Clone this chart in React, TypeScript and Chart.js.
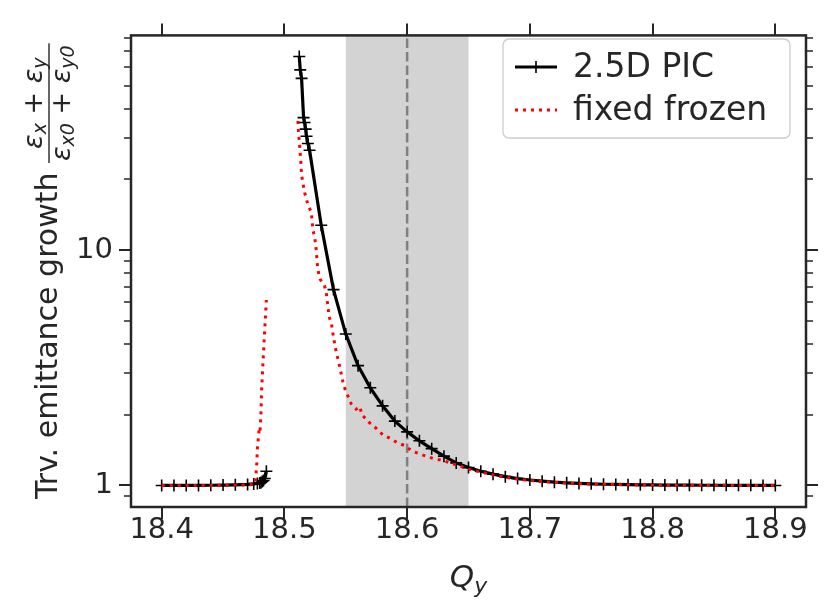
import React, { useEffect, useRef } from 'react';
import { Chart, registerables } from 'chart.js';

Chart.register(...registerables);

// ---------- data ----------
const xTicks = [18.4, 18.5, 18.6, 18.7, 18.8, 18.9];
const yMajorTicks = [1, 10];
const yMinorTicks = [0.9, 2, 3, 4, 5, 6, 7, 8, 9, 20, 30, 40, 50, 60, 70, 80];

const bandRange = [18.55, 18.65];
const markerQ = 18.6;

const seriesNames = ['2.5D PIC', 'fixed frozen'];

// 2.5D PIC (black, '+' markers); null = gap
const picQ = [
  18.40, 18.41, 18.42, 18.43, 18.44, 18.45, 18.46, 18.47, 18.475, 18.478, 18.480, 18.481,
  18.482, 18.483, 18.484, 18.4853, 18.495,
  18.5121, 18.5129, 18.514, 18.5156, 18.5164, 18.5173, 18.518, 18.5191, 18.5205,
  18.53, 18.54, 18.55, 18.56, 18.57, 18.58, 18.59, 18.60, 18.61, 18.62, 18.63, 18.64,
  18.65, 18.66, 18.67, 18.68, 18.69, 18.70, 18.71, 18.72, 18.73, 18.74, 18.75, 18.76,
  18.77, 18.78, 18.79, 18.80, 18.81, 18.82, 18.83, 18.84, 18.85, 18.86, 18.87, 18.88,
  18.89, 18.90,
];
const picV = [
  1.0, 1.0, 1.0, 1.0, 1.002, 1.004, 1.006, 1.01, 1.015, 1.02, 1.025, 1.03,
  1.04, 1.05, 1.07, 1.15, null,
  66.5, 58.4, 53.7, 36.6, 34.9, 32.7, 30.5, 28.4, 26.6,
  12.76, 6.80, 4.40, 3.23, 2.60, 2.18, 1.877, 1.690, 1.548, 1.434, 1.332, 1.247,
  1.191, 1.15, 1.117, 1.09, 1.07, 1.055, 1.043, 1.033, 1.026, 1.02, 1.016, 1.012,
  1.01, 1.008, 1.006, 1.005, 1.004, 1.003, 1.003, 1.002, 1.002, 1.001, 1.001, 1.001,
  1.0, 1.0,
];

// fixed frozen (red dotted); null = gap
const frozenQ = [
  18.40, 18.41, 18.42, 18.43, 18.44, 18.45, 18.46, 18.47, 18.4755, 18.4765, 18.4775,
  18.478, 18.4795, 18.4802, 18.481, 18.4814, 18.483, 18.4847, 18.4853, 18.495,
  18.511, 18.5113, 18.5118, 18.5124, 18.5129, 18.5134, 18.5137, 18.5142, 18.5146,
  18.5165, 18.5191, 18.5219, 18.5232, 18.5254, 18.5265, 18.527, 18.5281, 18.5292,
  18.5314, 18.5326, 18.534, 18.5348, 18.5357, 18.5362, 18.5382, 18.5395, 18.5415,
  18.545, 18.5476, 18.5498, 18.5517, 18.5545, 18.5585, 18.5618, 18.5626, 18.5688,
  18.5748, 18.5802, 18.587, 18.5924, 18.5979, 18.5998, 18.6047, 18.6101, 18.6156,
  18.621, 18.629, 18.6372, 18.6453, 18.65, 18.66, 18.67, 18.68, 18.69, 18.70, 18.71,
  18.72, 18.73, 18.74, 18.75, 18.76, 18.77, 18.78, 18.79, 18.80, 18.81, 18.82, 18.83,
  18.84, 18.85, 18.86, 18.87, 18.88, 18.89, 18.90,
];
const frozenV = [
  1.0, 1.0, 1.0, 1.0, 1.0, 1.002, 1.004, 1.006, 1.01, 1.05, 1.247,
  1.445, 1.75, 1.71, 2.084, 2.535, 3.70, 5.40, 6.14, null,
  35.4, 32.7, 30.2, 27.9, 25.7, 23.7, 22.1, 20.5, 19.96,
  17.56, 15.64, 14.49, 12.27, 10.73, 9.20, 8.52, 7.85, 7.51,
  7.21, 7.09, 6.65, 6.14, 5.68, 5.24, 4.92, 4.43, 3.85,
  3.21, 2.77, 2.525, 2.40, 2.22, 2.11, 2.16, 2.015, 1.858,
  1.75, 1.641, 1.578, 1.514, 1.480, 1.451, 1.395, 1.362, 1.332,
  1.303, 1.277, 1.237, 1.198, 1.173, 1.14, 1.11, 1.085, 1.065, 1.05, 1.04,
  1.03, 1.024, 1.018, 1.014, 1.011, 1.009, 1.007, 1.005, 1.004, 1.003, 1.002, 1.002,
  1.001, 1.001, 1.001, 1.0, 1.0, 1.0, 1.0,
];

// ---------- style ----------
const FONT = '"DejaVu Sans", "Liberation Sans", sans-serif';
const INK = '#262626';
const TICK_FONT = 29;
const LEGEND_FONT = 33;
const LABEL_FONT = 30;

type Run = { t: string; size: number; italic?: boolean; dy?: number };

function runsWidth(ctx: CanvasRenderingContext2D, runs: Run[]) {
  let w = 0;
  for (const r of runs) {
    ctx.font = `${r.italic ? 'italic ' : ''}${r.size}px ${FONT}`;
    w += ctx.measureText(r.t).width;
  }
  return w;
}
function drawRuns(ctx: CanvasRenderingContext2D, runs: Run[], x: number, y: number) {
  let cx = x;
  for (const r of runs) {
    ctx.font = `${r.italic ? 'italic ' : ''}${r.size}px ${FONT}`;
    ctx.fillText(r.t, cx, y + (r.dy || 0));
    cx += ctx.measureText(r.t).width;
  }
}

const decorPlugin = {
  id: 'decor',
  beforeDatasetsDraw(chart: any) {
    const { ctx, chartArea: a, scales } = chart;
    const x = scales.x;
    const x0 = x.getPixelForValue(bandRange[0]);
    const x1 = x.getPixelForValue(bandRange[1]);
    ctx.save();
    ctx.fillStyle = '#d3d3d3';
    ctx.fillRect(x0, a.top, x1 - x0, a.bottom - a.top);
    const xm = x.getPixelForValue(markerQ);
    ctx.strokeStyle = '#808080';
    ctx.lineWidth = 2.5;
    ctx.setLineDash([9.5, 4]);
    ctx.beginPath();
    ctx.moveTo(xm, a.bottom);
    ctx.lineTo(xm, a.top);
    ctx.stroke();
    ctx.restore();
  },
  afterDraw(chart: any) {
    const { ctx, chartArea: a, scales } = chart;
    const xs = scales.x;
    const ys = scales.y;
    ctx.save();
    // ticks
    ctx.strokeStyle = INK;
    ctx.lineCap = 'butt';
    const MAJ = 12, MIN = 7;
    ctx.lineWidth = 2;
    ctx.beginPath();
    for (const v of xTicks) {
      const px = Math.round(xs.getPixelForValue(v));
      ctx.moveTo(px, a.bottom); ctx.lineTo(px, a.bottom + MAJ);
      ctx.moveTo(px, a.top); ctx.lineTo(px, a.top - MAJ);
    }
    for (const v of yMajorTicks) {
      const py = Math.round(ys.getPixelForValue(v));
      ctx.moveTo(a.left, py); ctx.lineTo(a.left - MAJ, py);
      ctx.moveTo(a.right, py); ctx.lineTo(a.right + MAJ, py);
    }
    ctx.stroke();
    ctx.lineWidth = 1.7;
    ctx.beginPath();
    for (const v of yMinorTicks) {
      const py = Math.round(ys.getPixelForValue(v));
      ctx.moveTo(a.left, py); ctx.lineTo(a.left - MIN, py);
      ctx.moveTo(a.right, py); ctx.lineTo(a.right + MIN, py);
    }
    ctx.stroke();
    // frame
    ctx.lineWidth = 2.5;
    ctx.strokeStyle = INK;
    ctx.strokeRect(a.left, a.top, a.right - a.left, a.bottom - a.top);

    // legend
    const lx = 503, ly = 39, lw = 287, lh = 99;
    ctx.fillStyle = 'rgba(255,255,255,0.8)';
    ctx.strokeStyle = '#cccccc';
    ctx.lineWidth = 1.3;
    ctx.beginPath();
    (ctx as any).roundRect(lx, ly, lw, lh, 6);
    ctx.fill();
    ctx.stroke();
    const rows = [67, 110];
    // black sample
    ctx.strokeStyle = '#000';
    ctx.lineWidth = 3;
    ctx.beginPath();
    ctx.moveTo(515, rows[0]); ctx.lineTo(557, rows[0]);
    ctx.stroke();
    ctx.lineWidth = 1.6;
    ctx.beginPath();
    ctx.moveTo(536 - 6, rows[0]); ctx.lineTo(536 + 6, rows[0]);
    ctx.moveTo(536, rows[0] - 6); ctx.lineTo(536, rows[0] + 6);
    ctx.stroke();
    // red sample
    ctx.strokeStyle = '#ff0000';
    ctx.lineWidth = 3;
    ctx.setLineDash([3, 5]);
    ctx.beginPath();
    ctx.moveTo(515, rows[1]); ctx.lineTo(557, rows[1]);
    ctx.stroke();
    ctx.setLineDash([]);
    ctx.fillStyle = INK;
    ctx.font = `${LEGEND_FONT}px ${FONT}`;
    ctx.textBaseline = 'middle';
    ctx.textAlign = 'left';
    ctx.fillText(seriesNames[0], 573, rows[0] + 1);
    ctx.fillText(seriesNames[1], 573, rows[1] + 1);

    // x axis title Q_y
    ctx.textBaseline = 'alphabetic';
    const qRuns: Run[] = [
      { t: 'Q', size: 31, italic: true },
      { t: 'y', size: 22, italic: true, dy: 6 },
    ];
    const qw = runsWidth(ctx, qRuns);
    const cx = (a.left + a.right) / 2;
    drawRuns(ctx, qRuns, cx - qw / 2, 587);

    // y axis title
    ctx.translate(57, (a.top + a.bottom) / 2);
    ctx.rotate(-Math.PI / 2);
    const title: Run[] = [{ t: 'Trv. emittance growth ', size: LABEL_FONT }];
    const fs = 27, ss = 19;
    const num: Run[] = [
      { t: 'ε', size: fs, italic: true },
      { t: 'x', size: ss, italic: true, dy: 4 },
      { t: ' + ', size: fs },
      { t: 'ε', size: fs, italic: true },
      { t: 'y', size: ss, italic: true, dy: 4 },
    ];
    const den: Run[] = [
      { t: 'ε', size: fs, italic: true },
      { t: 'x0', size: ss, italic: true, dy: 4 },
      { t: ' + ', size: fs },
      { t: 'ε', size: fs, italic: true },
      { t: 'y0', size: ss, italic: true, dy: 4 },
    ];
    const tw = runsWidth(ctx, title);
    const nw = runsWidth(ctx, num);
    const dw = runsWidth(ctx, den);
    const fw = Math.max(nw, dw) + 4;
    const total = tw + fw;
    const sx = -total / 2;
    drawRuns(ctx, title, sx, 0);
    const fx = sx + tw;
    const lineY = -8;
    ctx.fillRect(fx, lineY - 0.7, fw, 1.4);
    drawRuns(ctx, num, fx + (fw - nw) / 2, lineY - 7);
    drawRuns(ctx, den, fx + (fw - dw) / 2, lineY + 21);
    ctx.restore();
  },
};

export default function App() {
  const ref = useRef<HTMLCanvasElement>(null);
  useEffect(() => {
    const canvas = ref.current!;
    const picData = picQ.map((q, i) => ({ x: q, y: picV[i] }));
    const frozenData = frozenQ.map((q, i) => ({ x: q, y: frozenV[i] }));
    const chart = new Chart(canvas, {
      type: 'line',
      data: {
        datasets: [
          {
            label: seriesNames[1],
            data: frozenData as any,
            borderColor: '#ff0000',
            borderWidth: 3,
            borderDash: [3, 5],
            borderCapStyle: 'butt',
            pointRadius: 0,
            tension: 0,
            spanGaps: false,
            order: 1,
          },
          {
            label: seriesNames[0],
            data: picData as any,
            borderColor: '#000000',
            borderWidth: 3.2,
            pointStyle: 'cross',
            pointRadius: 6,
            pointBorderWidth: 1.6,
            pointBorderColor: '#000000',
            pointBackgroundColor: '#000000',
            tension: 0,
            spanGaps: false,
            order: 2,
          },
        ],
      },
      options: {
        animation: false,
        responsive: false,
        layout: { padding: { left: 0, right: 25, top: 23, bottom: 0 } },
        plugins: { legend: { display: false }, tooltip: { enabled: false } },
        scales: {
          x: {
            type: 'linear',
            min: 18.375,
            max: 18.925,
            grid: { display: false, drawTicks: false },
            border: { display: false },
            ticks: {
              font: { family: FONT, size: TICK_FONT },
              color: INK,
              padding: 6,
              maxRotation: 0,
              autoSkip: false,
              callback: (v: any) => Number(v).toFixed(1),
            },
            afterBuildTicks: (s: any) => {
              s.ticks = xTicks.map((v) => ({ value: v }));
            },
            afterFit: (s: any) => {
              s.height = 103;
            },
          },
          y: {
            type: 'logarithmic',
            min: 0.81,
            max: 81.8,
            grid: { display: false, drawTicks: false },
            border: { display: false },
            ticks: {
              font: { family: FONT, size: TICK_FONT },
              color: INK,
              padding: 18,
              autoSkip: false,
              callback: (v: any) => String(v),
            },
            afterBuildTicks: (s: any) => {
              s.ticks = yMajorTicks.map((v) => ({ value: v }));
            },
            afterFit: (s: any) => {
              s.width = 131;
            },
          },
        },
      },
      plugins: [decorPlugin],
    });
    return () => chart.destroy();
  }, []);
  return (
    <div style={{ position: 'fixed', left: 0, top: 0, width: 831, height: 610, background: '#fff' }}>
      <canvas ref={ref} width={831} height={610} style={{ display: 'block' }} />
    </div>
  );
}
